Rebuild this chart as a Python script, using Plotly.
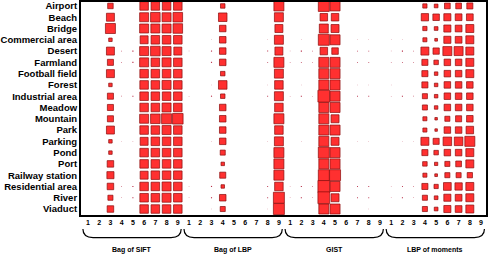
import plotly.graph_objects as go

rows = ["Airport", "Beach", "Bridge", "Commercial area", "Desert", "Farmland",
        "Football field", "Forest", "Industrial area", "Meadow", "Mountain", "Park",
        "Parking", "Pond", "Port", "Railway station", "Residential area", "River", "Viaduct"]
groups = ["Bag of SIFT", "Bag of LBP", "GIST", "LBP of moments"]
tick_labels = ["1", "2", "3", "4", "5", "6", "7", "8", "9"]

Z = [0, 0, 0, 0, 0, 0, 0, 0, 0, 0, 0, 0, 0, 0, 0, 0, 0, 0, 0]

# weights per feature dimension (columns 1..9), one value per row (0..1 of a cell)
bag_of_sift = [
    Z,
    Z,
    [0.49, 0.71, 0.89, 0.31, 0.71, 0.54, 0.71, 0.31, 0.54, 0.54, 0.54, 0.71, 0.31, 0.31, 0.58, 0.63, 0.58, 0.45, 0.58],
    [0, 0, 0, 0, 0.06, 0.06, 0, 0, 0.06, 0, 0, 0, 0.04, 0, 0, 0, 0.06, 0.06, 0],
    [0, 0, 0, 0, 0.10, 0.10, 0, 0, 0.10, 0, 0, 0, 0.05, 0, 0, 0, 0.10, 0.10, 0],
    [0.76, 0.80, 0.80, 0.71, 0.80, 0.80, 0.76, 0.76, 0.76, 0.76, 0.80, 0.76, 0.71, 0.76, 0.76, 0.71, 0.76, 0.76, 0.76],
    [0.76, 0.85, 0.80, 0.76, 0.85, 0.76, 0.76, 0.76, 0.76, 0.76, 0.85, 0.76, 0.76, 0.76, 0.76, 0.76, 0.76, 0.76, 0.76],
    [0.76, 0.80, 0.80, 0.76, 0.80, 0.80, 0.76, 0.80, 0.76, 0.80, 0.89, 0.80, 0.76, 0.76, 0.76, 0.76, 0.80, 0.80, 0.76],
    [0.76, 0.85, 0.85, 0.76, 0.71, 0.76, 0.76, 0.76, 0.76, 0.76, 0.94, 0.76, 0.76, 0.76, 0.76, 0.76, 0.76, 0.76, 0.76],
]
bag_of_lbp = [
    [0, 0, 0, 0, 0.05, 0, 0, 0, 0.05, 0, 0, 0, 0, 0, 0, 0, 0.05, 0.05, 0],
    Z,
    [0, 0, 0, 0.04, 0.10, 0.10, 0, 0.04, 0.10, 0, 0, 0, 0.04, 0, 0, 0, 0.10, 0.10, 0.04],
    [0.40, 0.76, 0.58, 0.58, 0.58, 0.58, 0.40, 0.76, 0.40, 0.58, 0.58, 0.58, 0.58, 0.45, 0.31, 0.54, 0.31, 0.58, 0.45],
    Z,
    Z,
    Z,
    [0, 0, 0, 0.04, 0.09, 0.08, 0, 0.04, 0.08, 0, 0, 0, 0.04, 0, 0, 0, 0.08, 0.08, 0.04],
    [0.89, 0.80, 0.71, 0.80, 0.71, 0.89, 0.80, 0.76, 0.80, 0.76, 0.89, 0.76, 0.80, 0.89, 0.89, 0.89, 0.76, 0.98, 0.98],
]
gist = [
    [0, 0, 0, 0, 0.05, 0.05, 0, 0, 0.05, 0, 0, 0, 0, 0, 0, 0, 0.05, 0.05, 0],
    [0, 0, 0, 0.04, 0.10, 0.08, 0, 0.04, 0.10, 0, 0, 0, 0.04, 0, 0, 0, 0.10, 0.10, 0],
    [0, 0, 0, 0, 0.06, 0.05, 0, 0, 0.05, 0, 0, 0, 0, 0, 0, 0, 0.06, 0.06, 0],
    [0.98, 0.67, 0.80, 0.98, 0.67, 0.89, 0.89, 0.89, 1.05, 0.89, 0.89, 0.89, 0.89, 0.98, 0.89, 0.98, 1.05, 1.05, 0.89],
    [0.89, 0.67, 0.71, 0.89, 0.58, 0.89, 0.89, 0.89, 0.89, 0.89, 0.71, 0.89, 0.71, 0.89, 0.89, 0.98, 0.89, 0.71, 0.89],
    Z,
    [0, 0, 0, 0.04, 0.08, 0.08, 0, 0.04, 0.08, 0, 0, 0, 0.04, 0, 0, 0, 0.08, 0.08, 0],
    [0, 0, 0, 0.04, 0.08, 0.08, 0, 0.04, 0.08, 0, 0, 0, 0.04, 0, 0, 0, 0.08, 0.08, 0.04],
    Z,
]
lbp_of_moments = [
    [0, 0, 0, 0.04, 0.05, 0.05, 0, 0.04, 0.05, 0, 0, 0, 0, 0, 0, 0, 0.05, 0.05, 0],
    [0, 0, 0, 0.04, 0.10, 0.08, 0, 0, 0.10, 0, 0, 0, 0.04, 0, 0, 0, 0.08, 0.10, 0],
    [0, 0, 0, 0, 0.06, 0.06, 0, 0, 0.06, 0, 0, 0, 0.04, 0, 0, 0, 0.06, 0.06, 0],
    [0.38, 0.65, 0.38, 0.36, 0.71, 0.54, 0.54, 0.54, 0.45, 0.45, 0.36, 0.36, 0.71, 0.54, 0.40, 0.36, 0.54, 0.45, 0.45],
    [0.33, 0.58, 0.33, 0.24, 0.56, 0.40, 0.31, 0.31, 0.31, 0.31, 0.22, 0.22, 0.54, 0.40, 0.29, 0.24, 0.38, 0.33, 0.33],
    [0.51, 0.63, 0.63, 0.63, 0.80, 0.58, 0.58, 0.58, 0.58, 0.58, 0.45, 0.58, 0.76, 0.58, 0.45, 0.45, 0.69, 0.63, 0.63],
    [0.51, 0.60, 0.60, 0.60, 0.80, 0.58, 0.58, 0.58, 0.58, 0.58, 0.54, 0.58, 0.76, 0.58, 0.51, 0.45, 0.65, 0.60, 0.60],
    [0.54, 0.60, 0.71, 0.71, 0.71, 0.71, 0.71, 0.58, 0.58, 0.58, 0.58, 0.67, 0.89, 0.71, 0.71, 0.47, 0.71, 0.71, 0.71],
    Z,
]
group_data = [bag_of_sift, bag_of_lbp, gist, lbp_of_moments]

W, H = 488, 254
ML, MR, MT, MB = 81, 2, 2, 39
X_RANGE = [0.38, 36.44]
Y_RANGE = [18.53, -0.35]
cell_px = (W - ML - MR) / (X_RANGE[1] - X_RANGE[0])

xs, ys, sizes, fills, lcols, lws = [], [], [], [], [], []
for g, data in enumerate(group_data):
    for c, col in enumerate(data):
        for r, w in enumerate(col):
            if w <= 0:
                continue
            xs.append(g * 9 + c + 1)
            ys.append(r)
            sizes.append(w * cell_px)
            if w < 0.2:
                fills.append("#b8304a")
                lws.append(0)
            else:
                fills.append("#ff3030")
                lws.append(0.7)
            lcols.append("#8a0c0c")

fig = go.Figure(go.Scatter(
    x=xs, y=ys, mode="markers",
    marker=dict(symbol="square", size=sizes, color=fills, opacity=1,
                line=dict(color=lcols, width=lws)),
    hoverinfo="skip", showlegend=False))

shapes = []
annotations = []
t, b = -0.066, -0.106
for g, name in enumerate(groups):
    x0 = g * 9 + 0.55
    x1 = g * 9 + 9.3
    path = (f"M {x0},{t} Q {x0},{b} {x0 + 0.9},{b} L {x1 - 0.9},{b} "
            f"Q {x1},{b} {x1},{t}")
    shapes.append(dict(type="path", path=path, xref="x", yref="paper",
                       line=dict(color="black", width=1.2)))
    annotations.append(dict(x=(x0 + x1) / 2, y=-0.162, xref="x", yref="paper",
                            text=name, showarrow=False, xanchor="center", yanchor="middle",
                            font=dict(family="Liberation Sans", size=7, color="black", weight="bold")))

fig.update_layout(
    width=W, height=H,
    margin=dict(l=ML, r=MR, t=MT, b=MB),
    plot_bgcolor="white", paper_bgcolor="white",
    shapes=shapes, annotations=annotations,
)
fig.update_xaxes(range=X_RANGE, tickvals=list(range(1, 37)), ticktext=tick_labels * 4,
                 showgrid=False, zeroline=False, showline=True, mirror=True,
                 linecolor="black", linewidth=2, ticks="", automargin=False,
                 tickfont=dict(family="Liberation Sans", size=7, color="black", weight="bold"))
fig.update_yaxes(range=Y_RANGE, tickvals=list(range(len(rows))), ticktext=rows,
                 showgrid=False, zeroline=False, showline=True, mirror=True,
                 linecolor="black", linewidth=2, ticks="", automargin=False,
                 tickfont=dict(family="Liberation Sans", size=9.5, color="black", weight="bold"))

fig.write_html("out.html", config={"displayModeBar": False},
               post_script="document.body.style.margin='0';document.body.style.padding='0';")
